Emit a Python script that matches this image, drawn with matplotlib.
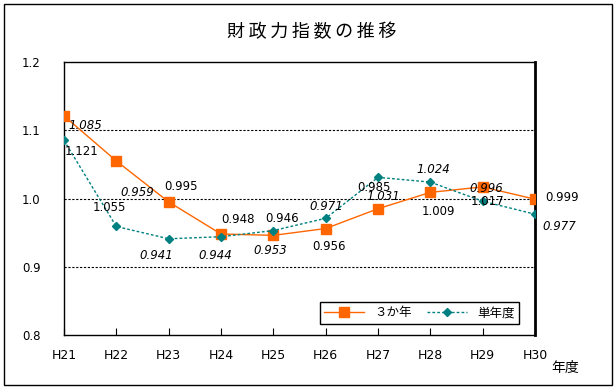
import matplotlib
matplotlib.use("Agg")
import matplotlib.pyplot as plt
from matplotlib.patches import Rectangle

plt.rcParams['font.family'] = ['Noto Sans CJK JP', 'DejaVu Sans']

# data
years = ['H21', 'H22', 'H23', 'H24', 'H25', 'H26', 'H27', 'H28', 'H29', 'H30']
three_year = [1.121, 1.055, 0.995, 0.948, 0.946, 0.956, 0.985, 1.009, 1.017, 0.999]
single_year = [1.085, 0.959, 0.941, 0.944, 0.953, 0.971, 1.031, 1.024, 0.996, 0.977]

# label offsets in pixels (as placed in the original)
off_three = [(18, -36), (-7, -47), (12, 15), (17, 14), (9, 17),
             (3, -18), (-4, 21), (8, -19), (5, -15), (27, 2)]
off_single = [(21, 15), (21, 34), (-12, -17), (-6, -19), (-3, -20),
              (1, 12), (5, -19), (3, 13), (4, 13), (24, -12)]

fig = plt.figure(figsize=(6.16, 3.89), dpi=100)
ax = fig.add_axes([64 / 616, 1 - 335 / 389, 471 / 616, 273 / 389])

x = list(range(len(years)))
ax.plot(x, three_year, color='#FF6600', lw=1.0, marker='s', ms=6.5,
        label='３か年', zorder=3)
ax.plot(x, single_year, color='#008080', lw=1.0, ls=(0, (2, 1.5)), marker='D',
        ms=4.5, label='単年度', zorder=3)

for i in x:
    ax.annotate(f'{three_year[i]:.3f}', (i, three_year[i]), xytext=off_three[i],
                textcoords='offset pixels', ha='center', va='center', fontsize=8.5,
                family='DejaVu Sans', zorder=4)
    ax.annotate(f'{single_year[i]:.3f}', (i, single_year[i]), xytext=off_single[i],
                textcoords='offset pixels', ha='center', va='center', fontsize=8.5,
                family='DejaVu Sans', style='italic', zorder=4)

ax.set_xlim(0, len(years) - 1)
ax.set_ylim(0.8, 1.2)
ax.set_yticks([0.8, 0.9, 1.0, 1.1, 1.2])
ax.set_yticklabels(['0.8', '0.9', '1.0', '1.1', '1.2'], family='DejaVu Sans', fontsize=8.5)
ax.set_xticks(x)
ax.set_xticklabels(years, family='DejaVu Sans', fontsize=9)
ax.tick_params(axis='y', length=0, pad=17)
ax.tick_params(axis='x', direction='in', length=5, pad=10)
for v in [0.9, 1.0, 1.1]:
    ax.axhline(v, color='black', lw=0.8, ls=(0, (2, 1.5)), zorder=1)
for s in ax.spines.values():
    s.set_linewidth(1.0)
ax.spines['right'].set_linewidth(2.0)

leg = ax.legend(ncol=2, loc='lower right', bbox_to_anchor=(525 / 616, 1 - 330 / 389),
                bbox_transform=fig.transFigure, fancybox=False, framealpha=1,
                edgecolor='black', fontsize=9, handlelength=3.2, columnspacing=1.2,
                borderpad=0.35)
leg.get_frame().set_linewidth(1.0)
leg.get_texts()[1].set_style('italic')

title = '\u2009'.join('財政力指数の推移')
fig.text(312 / 616, 1 - 32 / 389, title, ha='center', va='center', fontsize=13)
fig.text(565 / 616, 1 - 368 / 389, '年度', ha='center', va='center', fontsize=10)

fig.patches.append(Rectangle((4 / 616, 4 / 389), 608 / 616, 381 / 389, fill=False,
                             edgecolor='black', lw=1.0, transform=fig.transFigure))

fig.savefig('out.png', dpi=100)
